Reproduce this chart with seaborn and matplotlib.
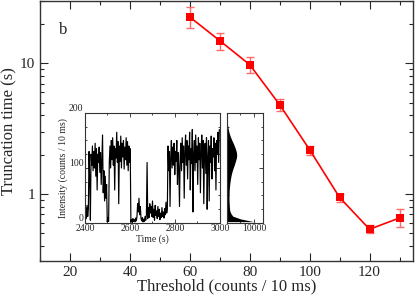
import matplotlib
matplotlib.use('Agg')
import matplotlib.pyplot as plt
import matplotlib.ticker as mticker
import seaborn as sns
import numpy as np

# main panel: truncation time vs threshold
threshold = [60, 70, 80, 90, 100, 110, 120, 130]
trunc_time = [22.6, 14.9, 9.76, 4.82, 2.18, 0.94, 0.537, 0.655]
err_low = [18.5, 12.6, 8.5, 4.33, 2.0, 0.875, 0.50, 0.556]
err_high = [26.8, 17.1, 11.1, 5.3, 2.34, 1.0, 0.58, 0.764]

# inset: intensity trace, one value every 3 s from 2400 s
trace_start, trace_step = 2400, 3
intensity = [
    5, 28, 8, 32, 12, 25, 130, 80, 5, 125,
    105, 140, 95, 130, 100, 145, 85, 135, 60, 125,
    110, 138, 92, 128, 70, 118, 160, 55, 95, 40,
    85, 45, 70, 2, 10, 3, 110, 140, 100, 150,
    115, 155, 105, 140, 60, 135, 118, 165, 110, 148,
    35, 140, 112, 158, 100, 145, 120, 150, 98, 138,
    115, 155, 105, 148, 95, 140, 110, 135, 2, 6,
    1, 8, 3, 6, 2, 9, 4, 12, 35, 20,
    45, 15, 30, 8, 4, 10, 2, 7, 3, 12,
    5, 15, 110, 8, 28, 10, 35, 18, 30, 12,
    40, 10, 25, 5, 32, 14, 22, 8, 30, 12,
    25, 6, 18, 10, 28, 12, 20, 9, 26, 15,
    38, 18, 25, 140, 95, 130, 30, 120, 150, 100,
    138, 105, 145, 88, 130, 112, 150, 70, 128, 100,
    30, 120, 145, 95, 155, 110, 140, 45, 130, 160,
    105, 150, 80, 140, 115, 165, 60, 135, 108, 170,
    20, 125, 150, 95, 160, 110, 140, 70, 155, 115,
    145, 55, 130, 160, 100, 150, 35, 125, 145, 90,
    155, 25, 120, 150, 40, 140, 110, 158, 80, 135,
    120, 155, 95, 145, 60, 150, 125, 165, 110, 170,
]

# inset: intensity histogram (5-count bins)
hist_counts = [
    9800, 5000, 2200, 1500, 1100, 1000, 950, 880, 850, 850,
    870, 900, 950, 1050, 1150, 1300, 1450, 1650, 1900, 2200,
    2550, 2900, 3200, 3500, 3650, 3600, 3350, 3000, 2600, 2150,
    1700, 1300, 950, 700, 500, 330, 200, 110, 50, 15,
]

sns.set_style('ticks')
plt.rcParams['font.family'] = ['Liberation Serif', 'DejaVu Serif']

fig = plt.figure(figsize=(4.15, 2.95), dpi=100)
ax = fig.add_axes([0.0964, 0.1153, 0.8988, 0.8814])

yerr = [np.array(trunc_time) - np.array(err_low), np.array(err_high) - np.array(trunc_time)]
ax.errorbar(threshold, trunc_time, yerr=yerr, fmt='none', ecolor='#ff6a6a',
            elinewidth=1.0, capsize=3, capthick=1.0, zorder=2)
sns.lineplot(x=threshold, y=trunc_time, ax=ax, color='red', lw=1.2,
             marker='s', markersize=5.5, markeredgewidth=0, zorder=3)

ax.set_yscale('log')
ax.set_xlim(10, 134.5)
ax.set_ylim(0.307, 30)
ax.xaxis.set_major_locator(mticker.MultipleLocator(20))
ax.xaxis.set_minor_locator(mticker.MultipleLocator(10))
ax.yaxis.set_major_formatter(mticker.FuncFormatter(lambda v, p: f'{v:g}'))
ax.yaxis.set_minor_formatter(mticker.NullFormatter())
ax.tick_params(which='both', direction='in', top=True, right=True, labelsize=11)
ax.tick_params(which='major', length=5.5, width=0.8)
ax.tick_params(which='minor', length=3, width=0.8)
for s in ax.spines.values():
    s.set_linewidth(1.0)
    s.set_color('#333333')
ax.set_xlabel('Threshold (counts / 10 ms)', fontsize=12, labelpad=0)
ax.set_ylabel('Truncation time (s)', fontsize=12, labelpad=2)
ax.text(0.062, 0.888, 'b', transform=ax.transAxes, fontsize=12, va='center', ha='center')

# inset: time trace
ax_t = fig.add_axes([0.2048, 0.2441, 0.3253, 0.3729])
time = trace_start + trace_step * np.arange(len(intensity))
sns.lineplot(x=time, y=intensity, ax=ax_t, color='black', lw=0.85, estimator=None)
ax_t.set_xlim(2400, 3000)
ax_t.set_ylim(0, 200)
ax_t.xaxis.set_major_locator(mticker.MultipleLocator(200))
ax_t.xaxis.set_minor_locator(mticker.MultipleLocator(100))
ax_t.yaxis.set_major_locator(mticker.MultipleLocator(100))
ax_t.yaxis.set_minor_locator(mticker.MultipleLocator(25))
ax_t.tick_params(which='both', direction='in', top=True, right=True, labelsize=7, pad=1)
ax_t.tick_params(which='major', length=3, width=0.6)
ax_t.tick_params(which='minor', length=1.5, width=0.6)
for lbl in ax_t.get_yticklabels():
    lbl.set_va('bottom')
ax_t.set_xlabel('Time (s)', fontsize=7, labelpad=1)
ax_t.set_ylabel('Intensity (counts / 10 ms)', fontsize=7, labelpad=1)

# inset: histogram
ax_h = fig.add_axes([0.5463, 0.2441, 0.0882, 0.3729])
bins = np.arange(2.5, 200, 5)
ax_h.fill_betweenx(bins, 0, hist_counts, color='black', lw=0)
ax_h.set_xlim(0, 13400)
ax_h.set_ylim(0, 200)
ax_h.xaxis.set_major_locator(mticker.FixedLocator([10000]))
ax_h.xaxis.set_minor_locator(mticker.FixedLocator([5000]))
ax_h.yaxis.set_major_locator(mticker.MultipleLocator(100))
ax_h.yaxis.set_minor_locator(mticker.MultipleLocator(25))
ax_h.tick_params(which='both', direction='in', top=True, right=True, labelleft=False,
                 labelsize=7, pad=1)
ax_h.tick_params(which='major', length=3, width=0.6)
ax_h.tick_params(which='minor', length=1.5, width=0.6)
for a in (ax_t, ax_h):
    for s in a.spines.values():
        s.set_linewidth(0.8)
        s.set_color('#333333')

fig.savefig('out.png', dpi=100)
